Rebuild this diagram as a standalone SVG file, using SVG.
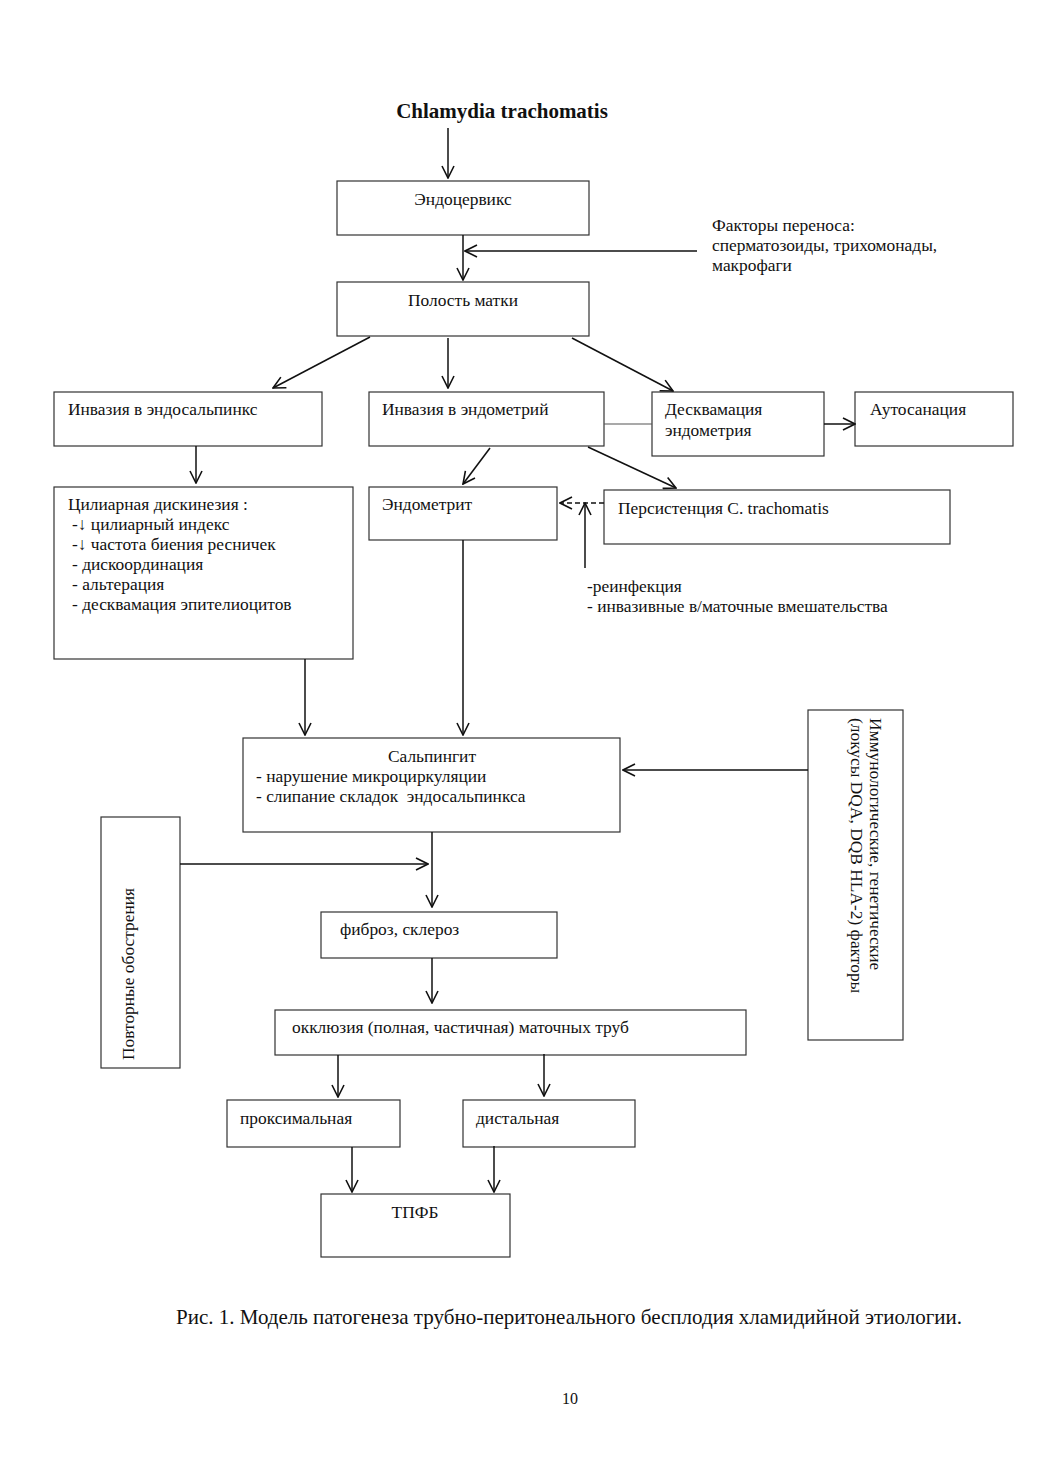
<svg xmlns="http://www.w3.org/2000/svg" width="1039" height="1471" viewBox="0 0 1039 1471">
<style>
  .box{fill:#fff;stroke:#333;stroke-width:1.2}
  .t{font-family:"Liberation Serif","Times New Roman",serif;font-size:17.4px;fill:#111}
  .c{text-anchor:middle}
  .ln{stroke:#111;stroke-width:1.5;fill:none}
</style>
<defs>
  <marker id="ah" viewBox="0 0 14 14" refX="13" refY="7" markerWidth="14" markerHeight="14" markerUnits="userSpaceOnUse" orient="auto">
    <path d="M1,1 L13,7 L1,13" fill="none" stroke="#111" stroke-width="1.6"/>
  </marker>
</defs>
<rect width="1039" height="1471" fill="#fff"/>

<g id="title"><text class="t c" x="502" y="118" style="font-size:21px;font-weight:bold">Chlamydia trachomatis</text></g>

<g id="endocervix"><rect class="box" x="337" y="181" width="252" height="54"/><text class="t c" x="463" y="205">Эндоцервикс</text></g>
<g id="factors"><text class="t" x="712" y="231">Факторы переноса:</text><text class="t" x="712" y="251">сперматозоиды, трихомонады,</text><text class="t" x="712" y="271">макрофаги</text></g>
<g id="uterus"><rect class="box" x="337" y="282" width="252" height="54"/><text class="t c" x="463" y="306">Полость матки</text></g>
<g id="endosalpinx"><rect class="box" x="54" y="392" width="268" height="54"/><text class="t" x="68" y="415">Инвазия в эндосальпинкс</text></g>
<g id="endometrium"><rect class="box" x="369" y="392" width="235" height="54"/><text class="t" x="382" y="415">Инвазия в эндометрий</text></g>
<g id="desquam"><rect class="box" x="652" y="392" width="172" height="64"/><text class="t" x="665" y="415">Десквамация</text><text class="t" x="665" y="436">эндометрия</text></g>
<g id="autosan"><rect class="box" x="855" y="392" width="158" height="54"/><text class="t" x="870" y="415">Аутосанация</text></g>
<g id="ciliary"><rect class="box" x="54" y="487" width="299" height="172"/>
  <text class="t" x="68" y="510">Цилиарная дискинезия :</text>
  <text class="t" x="72" y="530">-↓ цилиарный индекс</text>
  <text class="t" x="72" y="550">-↓ частота биения ресничек</text>
  <text class="t" x="72" y="570">- дискоординация</text>
  <text class="t" x="72" y="590">- альтерация</text>
  <text class="t" x="72" y="610">- десквамация эпителиоцитов</text>
</g>
<g id="endometritis"><rect class="box" x="369" y="487" width="188" height="53"/><text class="t" x="382" y="510">Эндометрит</text></g>
<g id="persist"><rect class="box" x="604" y="490" width="346" height="54"/><text class="t" x="618" y="514">Персистенция C. trachomatis</text></g>
<g id="reinf"><text class="t" x="587" y="592">-реинфекция</text><text class="t" x="587" y="612">- инвазивные в/маточные вмешательства</text></g>
<g id="salpingitis"><rect class="box" x="243" y="738" width="377" height="94"/>
  <text class="t c" x="432" y="762">Сальпингит</text>
  <text class="t" x="256" y="782">- нарушение микроциркуляции</text>
  <text class="t" x="256" y="802">- слипание складок &#160;эндосальпинкса</text>
</g>
<g id="immuno"><rect class="box" x="808" y="710" width="95" height="330"/>
  <text class="t" transform="translate(870,718) rotate(90)">Иммунологические, генетические</text>
  <text class="t" transform="translate(851,718) rotate(90)">(локусы DQA, DQB HLA-2) факторы</text>
</g>
<g id="relapse"><rect class="box" x="101" y="817" width="79" height="251"/>
  <text class="t" transform="translate(134,1060) rotate(-90)">Повторные обострения</text>
</g>
<g id="fibrosis"><rect class="box" x="321" y="912" width="236" height="46"/><text class="t" x="340" y="935">фиброз, склероз</text></g>
<g id="occlusion"><rect class="box" x="275" y="1010" width="471" height="45"/><text class="t" x="292" y="1033">окклюзия (полная, частичная) маточных труб</text></g>
<g id="proximal"><rect class="box" x="227" y="1100" width="173" height="47"/><text class="t" x="240" y="1124">проксимальная</text></g>
<g id="distal"><rect class="box" x="463" y="1100" width="172" height="47"/><text class="t" x="476" y="1124">дистальная</text></g>
<g id="tpfb"><rect class="box" x="321" y="1194" width="189" height="63"/><text class="t c" x="415" y="1218">ТПФБ</text></g>

<g id="connectors">
  <line class="ln" x1="448" y1="128" x2="448" y2="178" marker-end="url(#ah)"/>
  <line class="ln" x1="463" y1="235" x2="463" y2="280" marker-end="url(#ah)"/>
  <line class="ln" x1="697" y1="251" x2="465" y2="251" marker-end="url(#ah)"/>
  <line class="ln" x1="370" y1="337" x2="273" y2="388" marker-end="url(#ah)"/>
  <line class="ln" x1="448" y1="338" x2="448" y2="388" marker-end="url(#ah)"/>
  <line class="ln" x1="572" y1="338" x2="673" y2="391" marker-end="url(#ah)"/>
  <line x1="604" y1="424" x2="652" y2="424" stroke="#555" stroke-width="1.2"/>
  <line class="ln" x1="824" y1="424" x2="855" y2="424" stroke-width="2" marker-end="url(#ah)"/>
  <line class="ln" x1="196" y1="446" x2="196" y2="483" marker-end="url(#ah)"/>
  <line class="ln" x1="490" y1="448" x2="463" y2="484" marker-end="url(#ah)"/>
  <line class="ln" x1="588" y1="447" x2="676" y2="488" marker-end="url(#ah)"/>
  <line class="ln" x1="604" y1="503" x2="560" y2="503" stroke-dasharray="5,3" marker-end="url(#ah)"/>
  <line class="ln" x1="585" y1="568" x2="585" y2="503" marker-end="url(#ah)"/>
  <line class="ln" x1="463" y1="540" x2="463" y2="735" marker-end="url(#ah)"/>
  <line class="ln" x1="305" y1="659" x2="305" y2="735" marker-end="url(#ah)"/>
  <line class="ln" x1="808" y1="770" x2="623" y2="770" marker-end="url(#ah)"/>
  <line class="ln" x1="180" y1="864" x2="428" y2="864" marker-end="url(#ah)"/>
  <line class="ln" x1="432" y1="832" x2="432" y2="907" marker-end="url(#ah)"/>
  <line class="ln" x1="432" y1="958" x2="432" y2="1003" marker-end="url(#ah)"/>
  <line class="ln" x1="338" y1="1055" x2="338" y2="1097" marker-end="url(#ah)"/>
  <line class="ln" x1="544" y1="1054" x2="544" y2="1096" marker-end="url(#ah)"/>
  <line class="ln" x1="352" y1="1147" x2="352" y2="1192" marker-end="url(#ah)"/>
  <line class="ln" x1="494" y1="1146" x2="494" y2="1192" marker-end="url(#ah)"/>
</g>

<g id="caption"><text class="t" x="176" y="1324" style="font-size:21px">Рис. 1. Модель патогенеза трубно-перитонеального бесплодия хламидийной этиологии.</text></g>
<g id="page"><text class="t c" x="570" y="1404" style="font-size:16px">10</text></g>
</svg>
